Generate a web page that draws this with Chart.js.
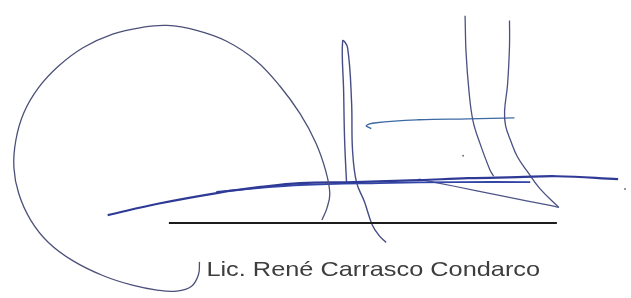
<!DOCTYPE html>
<html>
<head>
<meta charset="utf-8">
<script src="https://cdn.jsdelivr.net/npm/chart.js@4"></script>
<style>
    body { margin: 0; background: #fff; }
    #wrap { width: 631px; height: 298px; position: relative; }
</style>
</head>
<body>
<div id="wrap"><canvas id="sigChart"></canvas></div>
<script>
// stroke paths (x right, y down)
const loopX = [198, 197, 190, 175, 155, 130, 100, 70, 45, 27, 15, 10, 12, 20, 35, 55, 80, 110, 140, 165, 195, 225, 255, 280, 300, 316, 326, 330, 327, 322]
const loopY = [265, 278, 290, 295, 294, 289, 279, 264, 245, 222, 195, 168, 140, 112, 86, 64, 45, 31, 24, 22, 27, 38, 58, 85, 113, 143, 172, 195, 210, 222]

const crossX = [105, 157, 217, 260, 300, 355, 420, 470, 520, 560, 622]
const crossY = [217, 205, 194, 188, 184, 183, 181, 179, 178, 177, 180]

const cross2X = [215, 260, 300, 380, 460, 533]
const cross2Y = [193, 189, 186, 184, 183, 183]

const diagX = [420, 455, 503, 553, 562]
const diagY = [180, 187, 197, 207, 209]

const stemAX = [347, 345, 344, 343, 348, 352, 353, 357, 365, 373, 380, 387]
const stemAY = [185, 140, 90, 38, 45, 100, 150, 183, 203, 227, 238, 245]

const stemBX = [467, 468, 471, 475, 482, 492, 496]
const stemBY = [12, 50, 90, 120, 143, 170, 177]

const stemCX = [512, 512, 510, 507, 508, 513, 520, 530, 543, 562]
const stemCY = [17, 43, 83, 110, 125, 140, 157, 172, 190, 209]

const barX = [372, 367, 377, 420, 470, 517]
const barY = [128, 125, 122, 119, 118, 117]

const ruleX = [167, 560]
const ruleY = [225, 225]

const speckX = [465, 629]
const speckY = [156, 190]

const nameText = 'Lic. René Carrasco Condarco'
const nameX = [205, 543]   // left / right edge of the printed name
const nameY = 280          // baseline

function pts(xs, ys) {
    return xs.map((x, i) => ({ x: x, y: ys[i] }))
}

function stroke(xs, ys, color, width) {
    return {
        data: pts(xs, ys),
        showLine: true,
        borderColor: color,
        borderWidth: width,
        pointRadius: 0,
        tension: 0.4,
        fill: false,
    }
}

// draws the printed name under the signature
const namePlugin = {
    id: 'nameText',
    afterDatasetsDraw(chart) {
        const ctx = chart.ctx
        const xs = chart.scales.x
        const ys = chart.scales.y
        const left = xs.getPixelForValue(nameX[0])
        const right = xs.getPixelForValue(nameX[1])
        const base = ys.getPixelForValue(nameY)
        ctx.save()
        ctx.font = '21px "Liberation Sans", Arial, sans-serif'
        ctx.fillStyle = '#3d3d3d'
        ctx.textBaseline = 'alphabetic'
        const w = ctx.measureText(nameText).width
        ctx.translate(left, base)
        ctx.scale((right - left) / w, 1)
        ctx.fillText(nameText, 0, 0)
        ctx.restore()
    }
}

var ctx = document.getElementById('sigChart').getContext('2d')
var sigChart = new Chart(ctx, {
    type: 'scatter',
    data: {
        datasets: [
            stroke(loopX, loopY, '#4b5079', 1.3),
            stroke(ruleX, ruleY, '#1c1c1c', 2),
            stroke(crossX, crossY, '#2f3a96', 2.2),
            stroke(cross2X, cross2Y, '#3346a8', 1.8),
            stroke(diagX, diagY, '#4d5488', 1.2),
            stroke(stemAX, stemAY, '#454d86', 1.4),
            stroke(stemBX, stemBY, '#4a5084', 1.3),
            stroke(stemCX, stemCY, '#4a5084', 1.3),
            stroke(barX, barY, '#3d6aa2', 1.4),
            {
                data: pts(speckX, speckY),
                showLine: false,
                pointRadius: 1,
                pointBackgroundColor: '#777',
                pointBorderWidth: 0,
            },
        ]
    },
    options: {
        responsive: true,
        maintainAspectRatio: false,
        animation: false,
        layout: { padding: 0 },
        plugins: {
            legend: { display: false },
            tooltip: { enabled: false },
        },
        scales: {
            x: { type: 'linear', min: 0, max: 631, display: false },
            y: { type: 'linear', min: 0, max: 298, reverse: true, display: false },
        },
    },
    plugins: [namePlugin],
})
</script>
</body>
</html>
